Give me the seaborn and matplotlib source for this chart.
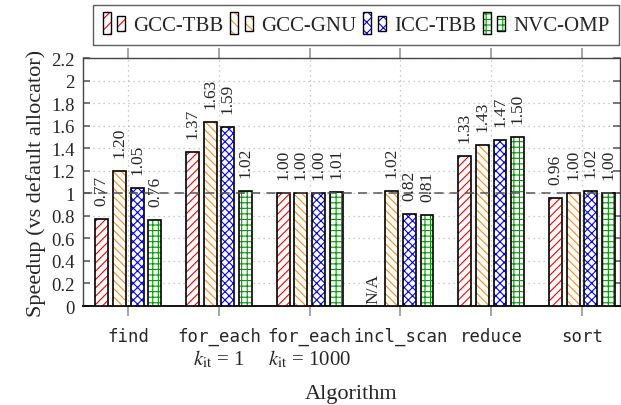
import numpy as np
import pandas as pd
import matplotlib
matplotlib.use("Agg")
import matplotlib.pyplot as plt
import seaborn as sns
from matplotlib.patches import Rectangle, Patch
from matplotlib.legend_handler import HandlerBase

# ---- data ----
algorithms = ["find", "for_each", "for_each ", "incl_scan", "reduce", "sort"]
sublabels = ["", r"$k_{\mathrm{it}}$ = 1", r"$k_{\mathrm{it}}$ = 1000", "", "", ""]
series = ["GCC-TBB", "GCC-GNU", "ICC-TBB", "NVC-OMP"]
gcc_tbb = [0.77, 1.37, 1.00, np.nan, 1.33, 0.96]
gcc_gnu = [1.20, 1.63, 1.00, 1.02, 1.43, 1.00]
icc_tbb = [1.05, 1.59, 1.00, 0.82, 1.47, 1.02]
nvc_omp = [0.76, 1.02, 1.01, 0.81, 1.50, 1.00]
yticks = [0, 0.2, 0.4, 0.6, 0.8, 1, 1.2, 1.4, 1.6, 1.8, 2, 2.2]

colors = ["#ff0000", "#ff8c1a", "#0000ff", "#009900"]
hatches = ["////", "\\\\\\\\", "xxxx", "+++"]

values = [gcc_tbb, gcc_gnu, icc_tbb, nvc_omp]
df = pd.DataFrame({
    "Algorithm": [a for _ in series for a in algorithms],
    "Series": [s for s in series for _ in algorithms],
    "Speedup": [v for vals in values for v in vals],
})

sns.set_theme(style="white")
plt.rcParams["font.family"] = ["Liberation Serif", "DejaVu Serif"]
plt.rcParams["mathtext.fontset"] = "stix"
plt.rcParams["hatch.linewidth"] = 0.8

fig = plt.figure(figsize=(6.21, 4.06), dpi=100)
ax = fig.add_axes([83 / 621, 1 - 307 / 406, 537 / 621, 248 / 406])

sns.barplot(data=df, x="Algorithm", y="Speedup", hue="Series", order=algorithms,
            hue_order=series, palette=["white"] * 4, width=0.78, gap=0.27,
            legend=False, ax=ax, zorder=3)

containers = ax.containers
centers = {}
for si, cont in enumerate(containers):
    for bar in cont:
        h = bar.get_height()
        if np.isnan(h) or h == 0:
            bar.set_visible(False)
            continue
        cxb = bar.get_x() + bar.get_width() / 2
        centers[(si, int(round(cxb)))] = cxb
        bar.set_facecolor("white")
        bar.set_edgecolor(colors[si])
        bar.set_hatch(hatches[si])
        bar.set_linewidth(0)
        ax.add_patch(Rectangle((bar.get_x(), bar.get_y()), bar.get_width(), h,
                               fill=False, edgecolor="black", linewidth=1.2, zorder=4))
        ax.annotate(f"{h:.2f}", (cxb, h),
                    xytext=(0, 10), textcoords="offset points", rotation=90,
                    ha="center", va="bottom", fontsize=12.5, zorder=6)

# N/A marker for missing bars
for si, vals in enumerate(values):
    for gi, v in enumerate(vals):
        if np.isnan(v):
            step = centers[(1, 0)] - centers[(0, 0)]
            x_na = centers[(si + 1, gi)] - step
            ax.text(x_na, 0.03, "N/A", rotation=90, ha="center", va="bottom",
                    fontsize=12.5)

ax.axhline(1.0, color="#555555", linestyle=(0, (6, 4)), linewidth=1.1, zorder=5)

ax.set_xlim(-0.5, 5.42)
ax.set_ylim(0, 2.2)
ax.set_yticks(yticks)
ax.set_yticklabels([f"{t:g}" for t in yticks], fontsize=13.5)
ax.set_xticks(range(len(algorithms)))
ax.set_xticklabels([a.strip() for a in algorithms], fontsize=12.5,
                   family="DejaVu Sans Mono")
for i, s in enumerate(sublabels):
    if s:
        ax.annotate(s, (i, 0), xycoords=("data", "axes fraction"),
                    xytext=(0, -38), textcoords="offset points",
                    ha="center", va="center", fontsize=15)

ax.grid(True, axis="both", linestyle=(0, (1, 3)), color="#bbbbbb", linewidth=0.9, zorder=0)
ax.set_axisbelow(True)
ax.tick_params(axis="y", which="both", direction="in", left=True, right=True,
               length=5, color="#666666", pad=6)
ax.tick_params(axis="x", which="both", direction="out", bottom=True, top=True,
               length=7, color="#999999", pad=8)
for side in ["left", "right", "top"]:
    ax.spines[side].set_color("#444444")
    ax.spines[side].set_linewidth(1.0)
ax.spines["bottom"].set_color("black")
ax.spines["bottom"].set_linewidth(1.3)

ax.set_xlabel("Algorithm", fontsize=16, labelpad=28)
ax.set_ylabel("Speedup (vs default allocator)", fontsize=16, labelpad=4)


class TwoBarHandler(HandlerBase):
    def create_artists(self, legend, orig_handle, xdescent, ydescent, width, height,
                       fontsize, trans):
        w = width * 0.32
        arts = []
        for j, x0 in enumerate([-xdescent + width * 0.02, -xdescent + width * 0.6]):
            hh = height * 1.3 if j == 0 else height * 0.85
            y0 = -ydescent + (height - hh) / 2
            r = Rectangle((x0, y0), w, hh, facecolor="white",
                          edgecolor=orig_handle.get_edgecolor(),
                          hatch=orig_handle.get_hatch(), linewidth=0, transform=trans)
            o = Rectangle((x0, y0), w, hh, fill=False, edgecolor="black",
                          linewidth=1.0, transform=trans)
            arts += [r, o]
        return arts


handles = [Patch(facecolor="white", edgecolor=c, hatch=h[:3]) for c, h in zip(colors, hatches)]
leg = fig.legend(handles, series, loc="center", bbox_to_anchor=(356 / 621, 1 - 26 / 406),
                 ncol=4, fontsize=15, frameon=True, fancybox=False, handlelength=1.2,
                 handleheight=0.9, handletextpad=0.3, columnspacing=0.3, borderpad=0.45,
                 borderaxespad=0, handler_map={Patch: TwoBarHandler()})
leg.get_frame().set_edgecolor("#333333")
leg.get_frame().set_linewidth(1.0)

fig.savefig("out.png", dpi=100)
